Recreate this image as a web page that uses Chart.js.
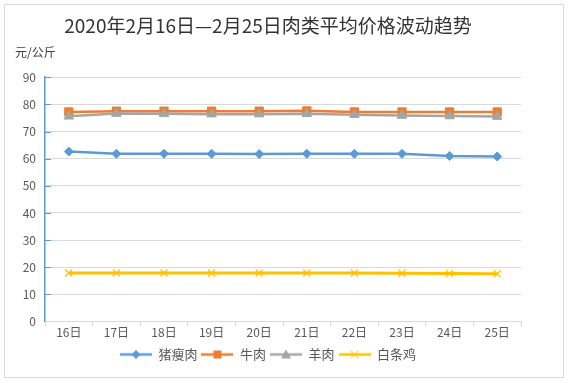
<!DOCTYPE html>
<html>
<head>
<meta charset="utf-8">
<script src="https://cdn.jsdelivr.net/npm/chart.js@4/dist/chart.umd.min.js"></script>
<style>
  html, body { margin: 0; padding: 0; background: #fff; }
  #wrap { position: relative; width: 569px; height: 383px; }
  #frame { position: absolute; left: 4px; top: 4px; width: 558px; height: 372px; border: 1px solid #d9d9d9; pointer-events: none; }
</style>
</head>
<body>
<div id="wrap">
  <canvas id="c" width="569" height="383"></canvas>
  <div id="frame"></div>
</div>
<script>
const chartTitle = '2020年2月16日—2月25日肉类平均价格波动趋势';
const unitLabel = '元/公斤';
const categories = ['16日','17日','18日','19日','20日','21日','22日','23日','24日','25日'];
const seriesNames = ['猪瘦肉','牛肉','羊肉','白条鸡'];
const pork    = [62.6, 61.8, 61.8, 61.8, 61.7, 61.8, 61.8, 61.8, 61.0, 60.8];
const beef    = [77.2, 77.5, 77.5, 77.5, 77.5, 77.6, 77.2, 77.2, 77.2, 77.2];
const mutton  = [75.6, 76.6, 76.5, 76.4, 76.4, 76.5, 76.2, 75.9, 75.7, 75.5];
const chicken = [17.9, 17.9, 17.9, 17.9, 17.9, 17.9, 17.9, 17.8, 17.7, 17.6];
const yTicks = [0, 10, 20, 30, 40, 50, 60, 70, 80, 90];

const colors = ['#5b9bd5', '#ed7d31', '#a5a5a5', '#ffc000'];
const styles = ['rectRot', 'rect', 'triangle', 'crossRot'];
const radii = [4.5, 5.8, 5.5, 5];
const values = [pork, beef, mutton, chicken];
const FONT = '"Noto Sans CJK SC", "Noto Sans", sans-serif';

function legendIcon(i) {
  const cv = document.createElement('canvas');
  cv.width = 32; cv.height = 14;
  const g = cv.getContext('2d');
  g.strokeStyle = colors[i]; g.fillStyle = colors[i];
  g.lineWidth = 2.5;
  g.beginPath(); g.moveTo(0, 7); g.lineTo(32, 7); g.stroke();
  const cx = 16, cy = 7;
  g.lineWidth = 1;
  if (styles[i] === 'rectRot') {
    g.beginPath(); g.moveTo(cx, cy-4.5); g.lineTo(cx+4.5, cy); g.lineTo(cx, cy+4.5); g.lineTo(cx-4.5, cy); g.closePath(); g.fill();
  } else if (styles[i] === 'rect') {
    g.fillRect(cx-4, cy-4, 8, 8);
  } else if (styles[i] === 'triangle') {
    g.beginPath(); g.moveTo(cx, cy-5); g.lineTo(cx+5, cy+4); g.lineTo(cx-5, cy+4); g.closePath(); g.fill();
  } else {
    g.beginPath(); g.moveTo(cx-4, cy-4); g.lineTo(cx+4, cy+4); g.moveTo(cx+4, cy-4); g.lineTo(cx-4, cy+4); g.stroke();
  }
  return cv;
}
const icons = seriesNames.map((_, i) => legendIcon(i));

const datasets = seriesNames.map((name, i) => ({
  label: name,
  data: values[i],
  borderColor: colors[i],
  backgroundColor: colors[i],
  borderWidth: i === 3 ? 3 : 2.5,
  pointStyle: styles[i],
  pointRadius: radii[i],
  pointBorderWidth: i === 3 ? 1.2 : 1,
  pointBackgroundColor: colors[i],
  pointBorderColor: colors[i],
  tension: 0,
  order: 4 - i
}));

const yTickMarks = {
  id: 'yTickMarks',
  beforeDatasetsDraw(chart) {
    const y = chart.scales.y, ctx = chart.ctx, a = chart.chartArea;
    ctx.save();
    ctx.strokeStyle = '#5b9bd5';
    ctx.lineWidth = 1;
    yTicks.forEach(v => {
      if (v === 0) return;
      const py = Math.round(y.getPixelForValue(v)) + 0.5;
      ctx.beginPath(); ctx.moveTo(a.left, py); ctx.lineTo(a.left + 6, py); ctx.stroke();
    });
    ctx.restore();
  }
};

new Chart(document.getElementById('c'), {
  type: 'line',
  data: { labels: categories, datasets },
  options: {
    responsive: false,
    animation: false,
    devicePixelRatio: 1,
    layout: { padding: { left: 15, right: 48, top: 0, bottom: 12 } },
    plugins: {
      title: {
        display: true, text: chartTitle, color: '#333333',
        font: { family: FONT, size: 19, weight: 'normal' },
        padding: { top: 14, bottom: 8 }
      },
      subtitle: {
        display: true, text: unitLabel, color: '#404040', align: 'start',
        font: { family: FONT, size: 12, weight: 'normal' },
        padding: { top: 0, bottom: 18 }
      },
      legend: {
        position: 'bottom',
        labels: {
          usePointStyle: true,
          pointStyleWidth: 32,
          padding: 4,
          color: '#595959',
          font: { family: FONT, size: 13 },
          generateLabels(chart) {
            return chart.data.datasets.map((ds, i) => ({
              text: ds.label, pointStyle: icons[i], datasetIndex: i,
              fillStyle: colors[i], strokeStyle: colors[i], lineWidth: 0,
              fontColor: '#595959', hidden: false
            }));
          }
        }
      },
      tooltip: { enabled: false }
    },
    scales: {
      x: {
        offset: true,
        afterFit(s) { s.height += 5; },
        grid: { offset: true, drawOnChartArea: false, drawTicks: true, tickLength: 5, color: '#d9d9d9' },
        border: { color: '#d9d9d9', width: 1 },
        ticks: { color: '#595959', font: { family: FONT, size: 12 }, padding: -1, maxRotation: 0 }
      },
      y: {
        min: 0, max: 90,
        afterBuildTicks(s) { s.ticks = yTicks.map(v => ({ value: v })); },
        afterFit(s) { s.width = 30; },
        grid: { color: '#d9d9d9', drawTicks: false },
        border: { color: '#5b9bd5', width: 1.5 },
        ticks: { color: '#595959', font: { family: FONT, size: 12 }, padding: 9 }
      }
    }
  },
  plugins: [yTickMarks]
});
</script>
</body>
</html>
